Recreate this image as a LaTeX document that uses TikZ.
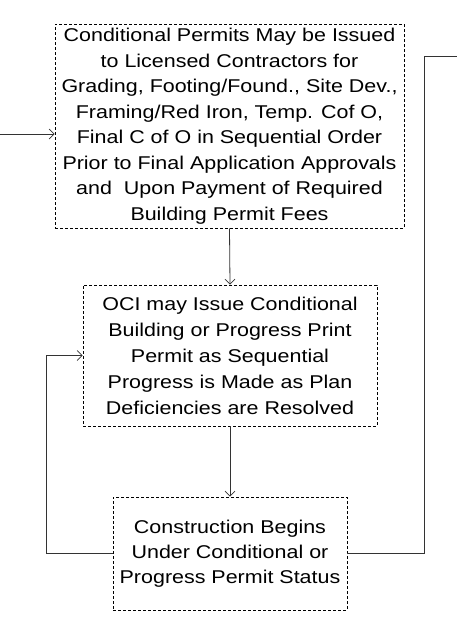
\documentclass[tikz,border=0pt]{standalone}
\usepackage{fontspec}
\setmainfont{Liberation Sans}[FakeStretch=1.16]
\usetikzlibrary{arrows.meta}
\begin{document}
\begin{tikzpicture}[x=1pt,y=-1pt,
  box/.style={draw, dash pattern=on 3pt off 2pt, line width=0.7pt, align=center,
    inner sep=0pt, font=\fontsize{18.5}{25.5}\selectfont},
  conn/.style={line width=0.8pt, draw=black!80},
  tip/.style={-{Straight Barb[length=5pt,width=10pt,line width=0.7pt]}}]
\useasboundingbox (0,0) rectangle (457,622);
\node[box, minimum width=349pt, minimum height=204pt] (b1) at (229.5,126)
  {Conditional Permits May be Issued\\to Licensed Contractors for\\Grading, Footing/Found., Site Dev.,\\Framing/Red Iron, Temp. Cof O,\\Final C of O in Sequential Order\\Prior to Final Application Approvals\\and\ \ Upon Payment of Required\\Building Permit Fees};
\node[box, minimum width=294pt, minimum height=141pt, font=\fontsize{18.5}{26}\selectfont] (b2) at (230,355.5)
  {OCI may Issue Conditional\\Building or Progress Print\\Permit as Sequential\\Progress is Made as Plan\\Deficiencies are Resolved};
\node[box, minimum width=234pt, minimum height=113pt, font=\fontsize{18.5}{25}\selectfont] (b3) at (230,553.5)
  {Construction Begins\\Under Conditional or\\Progress Permit Status};
\coordinate (inL) at (0,134);
\coordinate (lc) at (46,553.5);
\coordinate (rc) at (424,56);
\coordinate (outR) at (457,56);
\draw[conn,tip] (inL) -- (inL -| b1.west);
\draw[conn,tip] (b1.south) -- (b2.north);
\draw[conn,tip] (b2.south) -- (b3.north);
\draw[conn,tip] (b3.west) -- (lc) |- (b2.west);
\draw[conn] (b3.east) -| (rc) -- (outR);
\end{tikzpicture}
\end{document}
